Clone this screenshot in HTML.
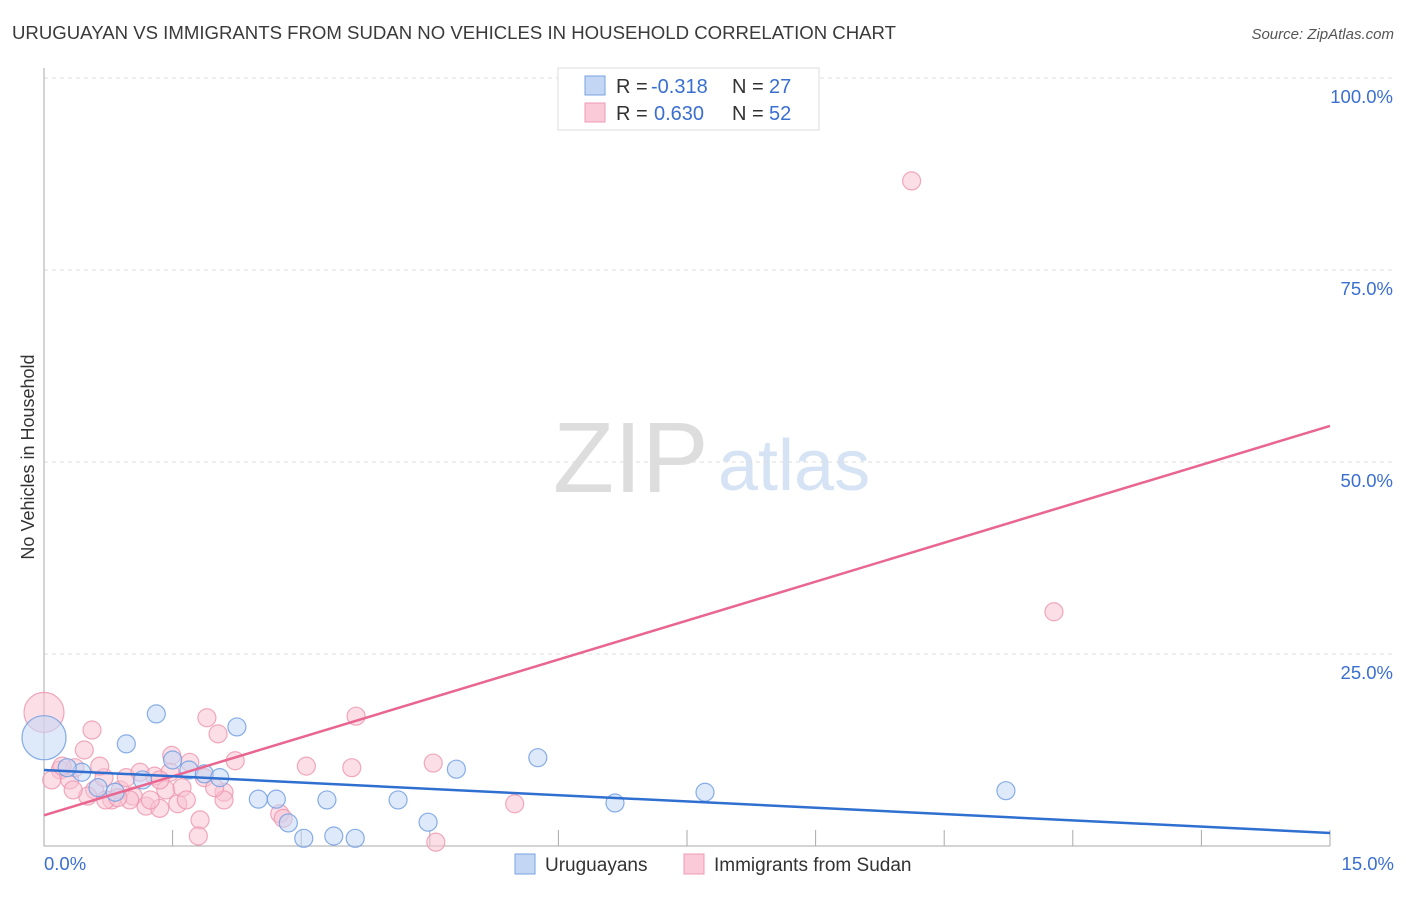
<!DOCTYPE html>
<html><head><meta charset="utf-8"><style>
body{margin:0;background:#fff;font-family:"Liberation Sans",sans-serif;}
svg text{font-family:"Liberation Sans",sans-serif;}
</style></head><body>
<svg id="chart" width="1406" height="892" xmlns="http://www.w3.org/2000/svg">
<text x="12" y="39" font-size="18" fill="#3a3a3a" textLength="884" lengthAdjust="spacingAndGlyphs">URUGUAYAN VS IMMIGRANTS FROM SUDAN NO VEHICLES IN HOUSEHOLD CORRELATION CHART</text>
<text x="1394" y="39" font-size="15" fill="#555" text-anchor="end" font-style="italic">Source: ZipAtlas.com</text>
<text transform="translate(34,457) rotate(-90)" font-size="18" fill="#333" text-anchor="middle">No Vehicles in Household</text>
<text x="553" y="492" font-size="100" fill="#ddd" font-family="Liberation Serif">ZIP</text>
<text x="718" y="490" font-size="72" fill="#d6e3f5">atlas</text>
<g id="grid"></g>
<g id="marks"></g>
<g>
<rect x="558" y="68" width="261" height="62" fill="#fff" stroke="#ddd"/>
<rect x="585" y="76" width="20" height="19" fill="#c3d7f5" stroke="#7aa3e0"/>
<rect x="585" y="103" width="20" height="19" fill="#fbcad8" stroke="#ee9bb3"/>
<text x="616" y="93" font-size="20" fill="#333">R =</text>
<text x="651" y="93" font-size="20" fill="#3a6fd0">-0.318</text>
<text x="732" y="93" font-size="20" fill="#333">N =</text>
<text x="769" y="93" font-size="20" fill="#3a6fd0">27</text>
<text x="616" y="120" font-size="20" fill="#333">R =</text>
<text x="654" y="120" font-size="20" fill="#3a6fd0">0.630</text>
<text x="732" y="120" font-size="20" fill="#333">N =</text>
<text x="769" y="120" font-size="20" fill="#3a6fd0">52</text>
</g>
<g>
<rect x="515" y="854" width="20" height="20" fill="#c3d7f5" stroke="#7aa3e0"/>
<text x="545" y="871" font-size="19" fill="#333">Uruguayans</text>
<rect x="684" y="854" width="20" height="20" fill="#fbcad8" stroke="#ee9bb3"/>
<text x="714" y="871" font-size="19" fill="#333">Immigrants from Sudan</text>
</g>
</svg>
<script>
const xTicks=[0,15];
const yTicks=[25,50,75,100];
const blueX=[0,1.31,0.96,2.25,0.44,0.27,0.63,0.83,1.15,1.50,1.69,1.87,2.05,2.50,2.71,2.85,3.03,3.38,3.63,3.30,4.13,4.48,4.81,5.76,6.66,7.71,11.22];
const blueY=[14.1,17.2,13.3,15.5,9.6,10.2,7.6,7.0,8.6,11.2,9.9,9.4,8.9,6.1,6.1,3.0,1.0,1.3,1.0,6.0,6.0,3.1,10.0,11.5,5.6,7.0,7.2];
const pinkX=[0,10.12,11.78,0.56,0.47,1.90,2.03,3.64,2.23,3.06,3.59,4.54,5.49,1.49,1.70,0.19,0.30,0.09,0.36,0.59,0.70,0.79,0.89,0.96,1.04,1.12,1.19,1.29,1.35,1.42,1.56,1.61,1.66,1.82,1.80,1.87,2.10,2.10,2.75,2.79,4.57,0.21,0.72,1.00,1.24,1.47,0.65,1.99,0.86,1.35,0.51,0.34];
const pinkY=[17.4,86.6,30.5,15.1,12.5,16.7,14.6,16.9,11.1,10.4,10.2,10.8,5.5,11.8,10.9,9.9,8.6,8.6,10.2,7.3,8.9,6.0,7.3,8.9,6.5,9.6,5.2,9.1,4.9,7.3,5.5,7.6,6.0,3.4,1.3,8.9,7.0,6.0,4.2,3.6,0.5,10.4,6.0,6.0,6.0,9.6,10.4,7.6,6.3,8.6,6.5,7.3];
const blueLine=[9.9,1.7];
const pinkLine=[4.0,54.7];
const X0=44,X1=1330,Y0=846,Y100=78;
const sx=v=>X0+(v/15)*(X1-X0);
const sy=v=>Y0-(v/100)*(Y0-Y100);
const NS="http://www.w3.org/2000/svg";
function mk(t,a,p){const e=document.createElementNS(NS,t);for(const k in a)e.setAttribute(k,a[k]);p.appendChild(e);return e;}
const g=document.getElementById('grid'),m=document.getElementById('marks');
yTicks.forEach(v=>{
 const l=mk('line',{x1:X0,x2:1394,y1:sy(v),y2:sy(v),stroke:'#ddd','stroke-dasharray':'4,4'},g);
 
 
 const t=mk('text',{x:1393,y:sy(v)+25,'font-size':18.5,fill:'#3a6fd0','text-anchor':'end'},g);
 t.textContent=v.toFixed(1)+'%';
 
 
});
const ax=mk('path',{d:`M${X0},68 L${X0},${Y0} L${X1},${Y0}`,stroke:'#aaa',fill:'none'},g);


for(let k=1;k<=10;k++){const x=sx(k*1.5);
 const tk=mk('line',{x1:x,x2:x,y1:Y0-16,y2:Y0,stroke:'#aaa'},g);
 
 }
xTicks.forEach((v,i)=>{const t=mk('text',{x:i?1394:44,y:870,'font-size':18.5,fill:'#3a6fd0','text-anchor':i?'end':'start'},g);
 t.textContent=v.toFixed(1)+'%';
 
 });
function pts(X,Y,fill,stroke,name){X.forEach((x,i)=>{
 const c=mk('circle',{cx:sx(x),cy:sy(Y[i]),r:i===0?(name==='uruguayan-point'?22:20):9,fill:fill,'fill-opacity':0.55,stroke:stroke,'stroke-opacity':0.8,'stroke-width':1.2},m);
 
 });}
pts(pinkX,pinkY,'#f8c3d2','#ec95ae','sudan-point');
pts(blueX,blueY,'#c3d7f5','#6d9be0','uruguayan-point');
const pl=mk('line',{x1:sx(0),y1:sy(pinkLine[0]),x2:sx(15),y2:sy(pinkLine[1]),stroke:'#e8668f','stroke-width':2.5},m);


const bl=mk('line',{x1:sx(0),y1:sy(blueLine[0]),x2:sx(15),y2:sy(blueLine[1]),stroke:'#2f6fd0','stroke-width':2.5},m);


</script>
</body></html>
